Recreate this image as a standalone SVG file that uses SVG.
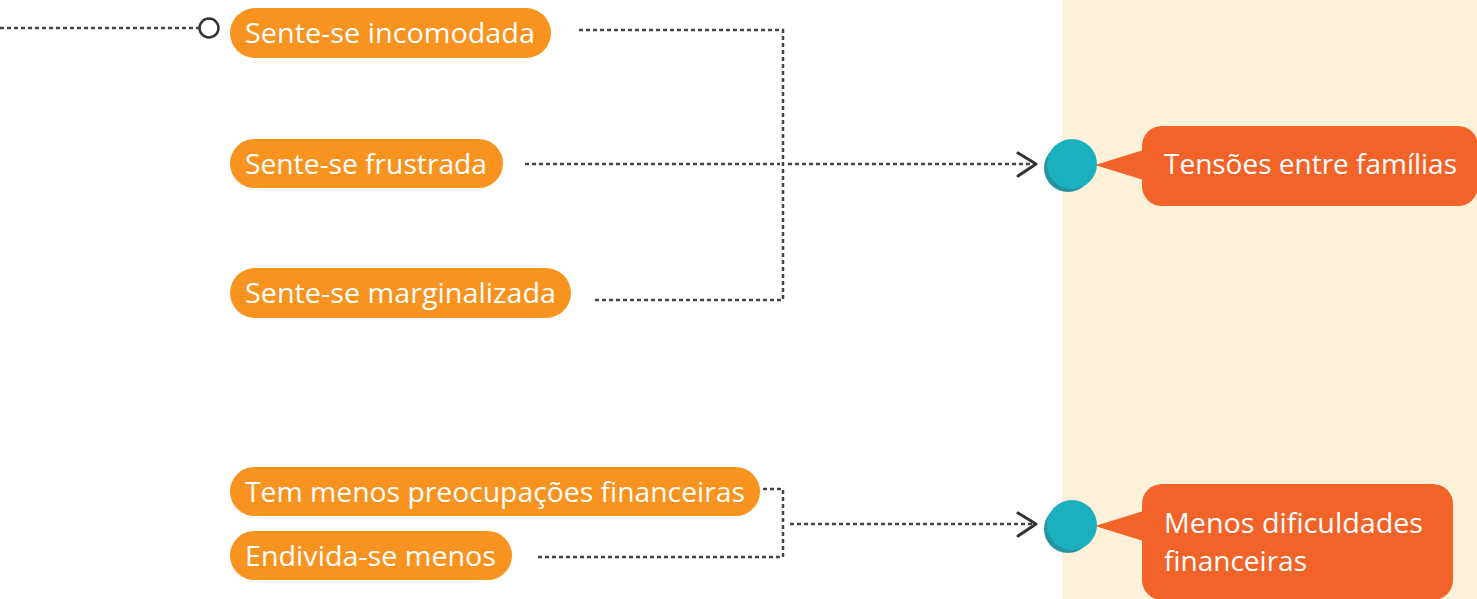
<svg xmlns="http://www.w3.org/2000/svg" width="1477" height="599" viewBox="0 0 1477 599">
<defs>
<style>
.pill{fill:#F7931E}
.pt{font-family:"Open Sans","Liberation Sans",sans-serif;font-size:28px;fill:#fff}
.ct{font-family:"Open Sans","Liberation Sans",sans-serif;font-size:28px;fill:#fff}
.dash{fill:none;stroke:#444;stroke-width:2.5;stroke-dasharray:4 3}
.chev{fill:none;stroke:#333;stroke-width:3;stroke-linecap:round;stroke-linejoin:round}
.call{fill:#F26329}
.dot{fill:#1BB0BF}
.dotsh{fill:#24959F}
</style>
</defs>
<rect x="0" y="0" width="1477" height="599" fill="#fff"/>
<rect x="1062" y="0" width="415" height="599" fill="#FDF2D9"/>
<g id="connectors">
<path class="dash" d="M0 28 H199"/>
<circle cx="209" cy="28" r="9.5" fill="#fff" stroke="#333" stroke-width="2.5"/>
<path class="dash" d="M579 30 H783 V300 H592"/>
<path class="dash" d="M525 164 H780"/>
<path class="dash" d="M788 164 H1035"/>
<path class="chev" d="M1018 153 L1036 164 L1018 176"/>
<path class="dash" d="M763 489 H783 V557 H538"/>
<path class="dash" d="M790 524 H1035"/>
<path class="chev" d="M1018 513 L1036 524 L1018 536"/>
</g>
<g id="n1"><rect class="pill" x="230" y="8" width="321" height="50" rx="25"/><text class="pt" x="245" y="43" textLength="290" lengthAdjust="spacingAndGlyphs">Sente-se incomodada</text></g>
<g id="n2"><rect class="pill" x="230" y="139" width="273" height="49" rx="24.5"/><text class="pt" x="245" y="174" textLength="242" lengthAdjust="spacingAndGlyphs">Sente-se frustrada</text></g>
<g id="n3"><rect class="pill" x="230" y="268" width="341" height="50" rx="25"/><text class="pt" x="245" y="303" textLength="311" lengthAdjust="spacingAndGlyphs">Sente-se marginalizada</text></g>
<g id="n4"><rect class="pill" x="230" y="467" width="530" height="49" rx="24.5"/><text class="pt" x="245" y="502" textLength="500" lengthAdjust="spacingAndGlyphs">Tem menos preocupações financeiras</text></g>
<g id="n5"><rect class="pill" x="230" y="531" width="282" height="49" rx="24.5"/><text class="pt" x="245" y="566" textLength="251" lengthAdjust="spacingAndGlyphs">Endivida-se menos</text></g>
<g id="c1">
<path class="call" d="M1095 165 L1150 148 L1150 182 Z"/>
<rect class="call" x="1142" y="126" width="336" height="80" rx="20"/>
<circle class="dotsh" cx="1068" cy="168" r="24"/>
<circle class="dot" cx="1072" cy="164" r="25"/>
<text class="ct" x="1164" y="174" textLength="293" lengthAdjust="spacingAndGlyphs">Tensões entre famílias</text>
</g>
<g id="c2">
<path class="call" d="M1095 526 L1150 509 L1150 543 Z"/>
<rect class="call" x="1142" y="484" width="311" height="116" rx="20"/>
<circle class="dotsh" cx="1068" cy="529" r="24"/>
<circle class="dot" cx="1072" cy="525" r="25"/>
<text class="ct" x="1164" y="533" textLength="259" lengthAdjust="spacingAndGlyphs">Menos dificuldades</text>
<text class="ct" x="1164" y="571" textLength="143" lengthAdjust="spacingAndGlyphs">financeiras</text>
</g>
</svg>
